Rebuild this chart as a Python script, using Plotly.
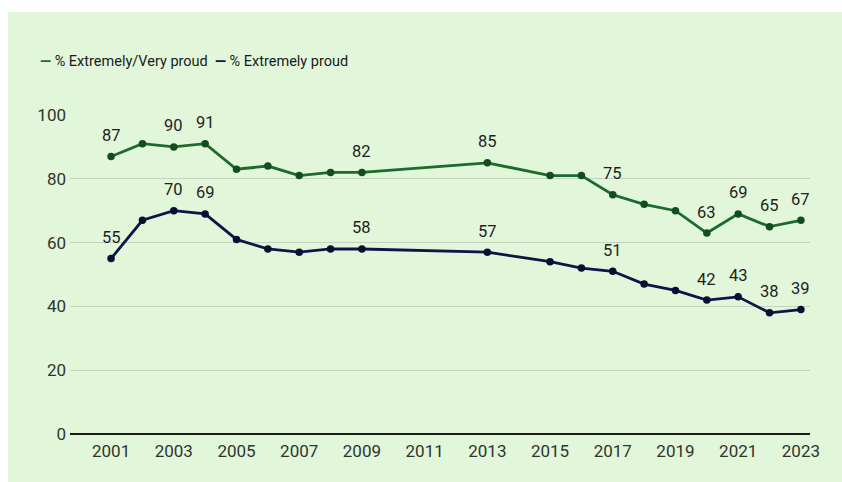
import plotly.graph_objects as go

years = [2001, 2002, 2003, 2004, 2005, 2006, 2007, 2008, 2009, 2013,
         2015, 2016, 2017, 2018, 2019, 2020, 2021, 2022, 2023]
very_proud = [87, 91, 90, 91, 83, 84, 81, 82, 82, 85,
              81, 81, 75, 72, 70, 63, 69, 65, 67]
extremely_proud = [55, 67, 70, 69, 61, 58, 57, 58, 58, 57,
                   54, 52, 51, 47, 45, 42, 43, 38, 39]
labeled_years = [2001, 2003, 2004, 2009, 2013, 2017, 2020, 2021, 2022, 2023]
series_names = ["% Extremely/Very proud", "% Extremely proud"]

GREEN = "#1c6a2c"
GREEN_M = "#124d1f"
NAVY = "#0c1747"
NAVY_M = "#070f33"
BG = "#e2f6da"
FONT = "Roboto, Liberation Sans, sans-serif"

fig = go.Figure()
for vals, name, lc, mc in [(very_proud, series_names[0], GREEN, GREEN_M),
                           (extremely_proud, series_names[1], NAVY, NAVY_M)]:
    fig.add_trace(go.Scatter(
        x=years, y=vals, name=name, mode="lines+markers",
        line=dict(color=lc, width=2.8),
        marker=dict(color=mc, size=7.5),
        cliponaxis=False, hoverinfo="x+y+name",
    ))
    for y, v in zip(years, vals):
        if y in labeled_years:
            fig.add_annotation(x=y, y=v, text=str(v), showarrow=False,
                               xanchor="center", yanchor="middle", yshift=21,
                               font=dict(family=FONT, size=16.5, color="#1e1e1e"))

legend_text = (f"<span style='color:{GREEN}'><b>—</b></span> {series_names[0]}  "
               f"<span style='color:{NAVY}'><b>—</b></span> {series_names[1]}")
fig.add_annotation(text=legend_text, xref="paper", yref="paper",
                   x=-0.0432, y=1.167, xanchor="left", yanchor="middle",
                   showarrow=False,
                   font=dict(family=FONT, size=14.5, color="#1a1a1a"))

# white strips at top and left edge of the image
fig.add_shape(type="rect", xref="paper", yref="paper", x0=-0.2, x1=1.2,
              y0=1.323, y1=1.5, fillcolor="white", line_width=0, layer="below")
fig.add_shape(type="rect", xref="paper", yref="paper", x0=-0.2, x1=-0.0838,
              y0=-0.3, y1=1.5, fillcolor="white", line_width=0, layer="below")

fig.update_layout(
    width=842, height=482,
    margin=dict(l=70, r=32, t=115, b=48),
    paper_bgcolor=BG, plot_bgcolor=BG,
    showlegend=False,
    font=dict(family=FONT, size=17, color="#2e352e"),
    xaxis=dict(range=[1999.69, 2023.29], tick0=2001, dtick=2,
               showgrid=False, zeroline=False, showline=False,
               ticks="", ticklabelstandoff=5,
               tickfont=dict(family=FONT, size=17, color="#2e352e")),
    yaxis=dict(range=[0, 100], tickvals=[0, 20, 40, 60, 80, 100],
               showgrid=True, gridcolor="#c3d3bf", gridwidth=1,
               zeroline=True, zerolinecolor="#1a1a1a", zerolinewidth=2,
               showline=False, ticks="", ticklabelstandoff=3,
               tickfont=dict(family=FONT, size=17, color="#2e352e")),
)

fig.write_html("out.html")
